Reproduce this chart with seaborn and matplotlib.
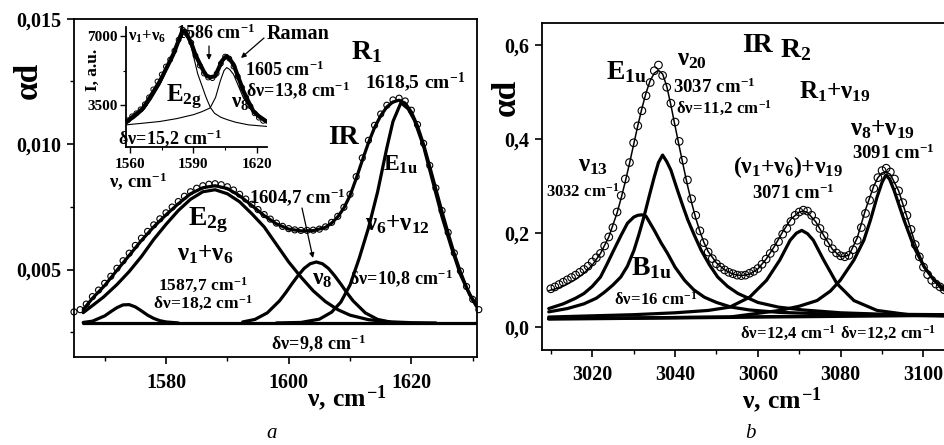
import matplotlib
matplotlib.use('Agg')
import matplotlib.pyplot as plt
from matplotlib.ticker import MultipleLocator, FuncFormatter
import seaborn as sns

# ---------------- panel a: IR band R1 ----------------
a_nu = list(range(1565, 1632))
a_data = [0.00331, 0.00340, 0.00362, 0.00392, 0.00418, 0.00445, 0.00473, 0.00505, 0.00535, 0.00565,
          0.00596, 0.00625, 0.00652, 0.00678, 0.00702, 0.00726, 0.00749, 0.00771, 0.00792, 0.00810,
          0.00824, 0.00834, 0.00840, 0.00842, 0.00838, 0.00830, 0.00817, 0.00800, 0.00781, 0.00760,
          0.00739, 0.00719, 0.00701, 0.00685, 0.00672, 0.00663, 0.00658, 0.00656, 0.00656, 0.00657,
          0.00661, 0.00670, 0.00688, 0.00712, 0.00748, 0.00800, 0.00870, 0.00945, 0.01015, 0.01075,
          0.01120, 0.01155, 0.01176, 0.01183, 0.01172, 0.01135, 0.01078, 0.01003, 0.00915, 0.00825,
          0.00735, 0.00648, 0.00566, 0.00494, 0.00432, 0.00381, 0.00340]

a_fit_nu = [1566.5, 1568, 1570, 1572, 1574, 1576, 1578, 1580, 1582, 1584, 1586, 1588, 1590, 1592,
            1594, 1596, 1598, 1600, 1602, 1604, 1606, 1607, 1608, 1609, 1610, 1611, 1612, 1613,
            1614, 1615, 1616, 1617, 1618, 1619, 1620, 1621, 1622, 1623, 1624, 1625, 1626, 1627,
            1628, 1629, 1630, 1630.7]
a_fit = [0.00340, 0.00385, 0.00436, 0.00497, 0.00556, 0.00616, 0.00670, 0.00718, 0.00762, 0.00802,
         0.00826, 0.00834, 0.00823, 0.00794, 0.00755, 0.00715, 0.00682, 0.00661, 0.00654, 0.00655,
         0.00668, 0.00685, 0.00710, 0.00745, 0.00795, 0.00862, 0.00935, 0.01005, 0.01066, 0.01113,
         0.01148, 0.01168, 0.01175, 0.01163, 0.01128, 0.01072, 0.00998, 0.00910, 0.00820, 0.00730,
         0.00644, 0.00562, 0.00490, 0.00428, 0.00378, 0.00350]

a_e2g_nu = [1566.5, 1568, 1569.8, 1572, 1574, 1576, 1578, 1580, 1582, 1584, 1586, 1588, 1590, 1592,
            1594, 1596, 1598, 1600, 1602, 1604, 1606, 1608, 1610, 1613, 1616, 1620, 1624]
a_e2g = [0.00328, 0.00356, 0.00390, 0.00440, 0.00492, 0.00552, 0.00620, 0.00680, 0.00735, 0.00780,
         0.00810, 0.00818, 0.00802, 0.00770, 0.00722, 0.00670, 0.00600, 0.00530, 0.00470, 0.00415,
         0.00372, 0.00340, 0.00318, 0.00300, 0.00292, 0.00288, 0.00287]

a_v8_nu = [1592.5, 1594.5, 1596.5, 1598.5, 1599.5, 1600.5, 1601.5, 1602.5, 1603.5, 1604.5, 1605.5,
           1606.5, 1607.5, 1608.5, 1609.5, 1610.5, 1612.5, 1614.5, 1616.5]
a_v8 = [0.00291, 0.00301, 0.00327, 0.00375, 0.00407, 0.00442, 0.00475, 0.00504, 0.00523, 0.00530,
        0.00523, 0.00504, 0.00475, 0.00442, 0.00407, 0.00375, 0.00327, 0.00301, 0.00291]

a_e1u_nu = [1598, 1602, 1605, 1607, 1608.5, 1610, 1611.5, 1613, 1614.5, 1616, 1617, 1618.3, 1619.5,
            1620.5, 1622, 1623.5, 1625, 1626.5, 1628, 1629.5, 1630.7]
a_e1u = [0.00287, 0.00289, 0.00302, 0.00330, 0.00370, 0.00438, 0.00545, 0.00665, 0.00810, 0.00985,
         0.01090, 0.01165, 0.01140, 0.01095, 0.00990, 0.00850, 0.00710, 0.00590, 0.00480, 0.00400,
         0.00356]

a_small_nu = [1566.5, 1568, 1570, 1571, 1572, 1573, 1574, 1575, 1576, 1577, 1578, 1579, 1580, 1582]
a_small = [0.00289, 0.00294, 0.00315, 0.00332, 0.00348, 0.00359, 0.00360, 0.00351, 0.00335, 0.00318,
           0.00305, 0.00296, 0.00291, 0.00287]

a_base_nu = [1566.5, 1630.7]
a_base = [0.00287, 0.00287]

# ---------------- inset: Raman ----------------
in_nu = [1559, 1561, 1563, 1565, 1567, 1569, 1571, 1573, 1575, 1577, 1579, 1581, 1583, 1585, 1587,
         1589, 1591, 1593, 1595, 1597, 1599, 1601, 1603, 1605, 1607, 1609, 1611, 1613, 1615, 1617,
         1619, 1621, 1623]
in_data = [2750, 2950, 3100, 3300, 3550, 3900, 4300, 4700, 5050, 5450, 5800, 6250, 6800, 7300, 7150,
           6650, 6000, 5500, 5100, 4900, 4870, 5100, 5600, 5950, 5850, 5450, 4950, 4400, 3900, 3450,
           3100, 2880, 2720]

in_fit_nu = [1558.2, 1561, 1564, 1566.3, 1568.5, 1571, 1574.2, 1577, 1580.5, 1582.5, 1584.5, 1585.3,
             1586.1, 1587.5, 1589.2, 1591, 1593.2, 1595, 1596.3, 1598, 1600.3, 1602, 1603.5, 1604.7,
             1605.8, 1607, 1609, 1611, 1613.7, 1616, 1618.4, 1621, 1624.7]
in_fit = [2650, 2900, 3150, 3370, 3745, 4170, 4720, 5320, 6070, 6620, 7170, 7260, 7250, 6950, 6580,
          6030, 5560, 5180, 4980, 4910, 4970, 5370, 5730, 5880, 5980, 5850, 5560, 4990, 4210, 3700,
          3200, 2950, 2680]

in_e2g_nu = [1558.2, 1562, 1566.3, 1570, 1574.2, 1577, 1580.5, 1583, 1585.3, 1588, 1590, 1592, 1594,
             1596, 1598, 1600, 1603, 1606, 1610, 1616, 1624.7]
in_e2g = [2600, 2850, 3250, 3800, 4550, 5200, 5950, 6650, 7100, 6800, 6000, 5100, 4500, 3900, 3400,
          3100, 2900, 2780, 2650, 2520, 2440]

in_v8_nu = [1558.2, 1566, 1574.2, 1582, 1590, 1594, 1597.9, 1600.5, 1602.7, 1604.5, 1605.8, 1607.2,
            1609, 1611, 1613.7, 1617, 1620, 1624.7]
in_v8 = [2520, 2600, 2690, 2830, 3030, 3180, 3368, 3900, 4717, 5250, 5400, 5300, 5056, 4550, 3875,
         3350, 3028, 2689]

# ---------------- panel b: IR band R2 ----------------
b_nu = list(range(3010, 3106))
b_data = [0.082, 0.086, 0.091, 0.096, 0.101, 0.106, 0.111, 0.117, 0.123, 0.130,
          0.139, 0.148, 0.157, 0.173, 0.192, 0.212, 0.245, 0.280, 0.315, 0.350,
          0.392, 0.428, 0.460, 0.492, 0.520, 0.545, 0.557, 0.535, 0.510, 0.476,
          0.436, 0.395, 0.355, 0.313, 0.273, 0.238, 0.205, 0.180, 0.160, 0.146,
          0.135, 0.128, 0.122, 0.117, 0.114, 0.111, 0.110, 0.111, 0.115, 0.119,
          0.125, 0.134, 0.145, 0.157, 0.168, 0.182, 0.198, 0.210, 0.225, 0.238,
          0.245, 0.249, 0.247, 0.238, 0.225, 0.210, 0.195, 0.180, 0.167, 0.158,
          0.152, 0.150, 0.153, 0.165, 0.185, 0.212, 0.242, 0.270, 0.295, 0.318,
          0.333, 0.338, 0.330, 0.315, 0.290, 0.265, 0.238, 0.208, 0.176, 0.150,
          0.128, 0.112, 0.100, 0.092, 0.086, 0.080]

b_fit_nu = [3009.5, 3012, 3014, 3016, 3018, 3020, 3022, 3024, 3026, 3027, 3028, 3029, 3030, 3031,
            3032, 3033, 3034, 3035, 3036, 3037, 3038, 3039, 3040, 3041, 3042, 3043, 3044, 3045,
            3046, 3047, 3048, 3050, 3052, 3054, 3056, 3058, 3060, 3062, 3064, 3066, 3068, 3070,
            3071, 3072, 3074, 3076, 3078, 3080, 3082, 3084, 3086, 3088, 3089, 3090, 3091, 3092,
            3094, 3096, 3098, 3100, 3102, 3104, 3105.2]
b_fit = [0.078, 0.084, 0.092, 0.102, 0.115, 0.132, 0.157, 0.192, 0.243, 0.275, 0.310, 0.348, 0.388,
         0.428, 0.465, 0.498, 0.524, 0.540, 0.546, 0.538, 0.512, 0.472, 0.428, 0.385, 0.343, 0.302,
         0.265, 0.232, 0.204, 0.180, 0.161, 0.137, 0.122, 0.113, 0.110, 0.113, 0.124, 0.145, 0.172,
         0.203, 0.230, 0.245, 0.247, 0.244, 0.224, 0.194, 0.166, 0.150, 0.153, 0.190, 0.250, 0.300,
         0.318, 0.328, 0.330, 0.325, 0.290, 0.235, 0.178, 0.134, 0.104, 0.084, 0.076]

b_b1u_nu = [3009.5, 3013, 3016, 3018, 3020, 3022, 3023.5, 3025.2, 3027, 3028.5, 3030, 3031, 3032,
            3033, 3035, 3036.6, 3038.2, 3040, 3042.3, 3044.5, 3047.1, 3050, 3053.6, 3058, 3065, 3075,
            3090, 3105.2]
b_b1u = [0.040, 0.050, 0.062, 0.072, 0.087, 0.107, 0.133, 0.164, 0.196, 0.221, 0.234, 0.238, 0.239,
         0.236, 0.206, 0.180, 0.157, 0.128, 0.100, 0.080, 0.064, 0.053, 0.043, 0.037, 0.032, 0.029,
         0.027, 0.026]

b_e1u_nu = [3009.5, 3014, 3018, 3021, 3023, 3025, 3026.9, 3028.5, 3030.1, 3031.3, 3032.5, 3033.8,
            3035, 3036, 3037, 3038, 3039, 3040.6, 3042, 3043.1, 3044.7, 3046.3, 3048.3, 3050.3,
            3052.7, 3055.2, 3060, 3065, 3071, 3080, 3090, 3105.2]
b_e1u = [0.033, 0.040, 0.050, 0.062, 0.075, 0.090, 0.107, 0.130, 0.164, 0.198, 0.235, 0.280, 0.320,
         0.350, 0.366, 0.352, 0.334, 0.291, 0.255, 0.228, 0.195, 0.164, 0.133, 0.107, 0.087, 0.072,
         0.053, 0.043, 0.037, 0.031, 0.028, 0.027]

b_3071_nu = [3009.5, 3030, 3040, 3048, 3053.2, 3058, 3062.1, 3065.3, 3067.8, 3069.3, 3070.6, 3072,
             3073.4, 3075.9, 3079.1, 3083.2, 3088.8, 3097.7, 3105.2]
b_3071 = [0.022, 0.027, 0.031, 0.036, 0.043, 0.064, 0.100, 0.143, 0.185, 0.200, 0.206, 0.199, 0.185,
          0.143, 0.093, 0.057, 0.036, 0.0255, 0.024]

b_3091_nu = [3009.5, 3030, 3053.2, 3065.3, 3070, 3074.3, 3077.5, 3079.9, 3083.2, 3085.6, 3087.2,
             3088.8, 3090, 3090.9, 3091.8, 3092.9, 3095.3, 3097.7, 3100.2, 3102.6, 3105.2]
b_3091 = [0.019, 0.020, 0.022, 0.036, 0.045, 0.057, 0.077, 0.100, 0.143, 0.185, 0.228, 0.277, 0.308,
          0.323, 0.315, 0.291, 0.228, 0.171, 0.128, 0.100, 0.080]

b_base_nu = [3009.5, 3105.2]
b_base = [0.018, 0.026]

# ---------------- style ----------------
sns.set_theme(style='ticks')
plt.rcParams['font.family'] = ['Liberation Serif', 'DejaVu Serif']
plt.rcParams['font.weight'] = 'bold'
plt.rcParams['mathtext.fontset'] = 'custom'
plt.rcParams['mathtext.rm'] = 'Liberation Serif:bold'
plt.rcParams['mathtext.it'] = 'Liberation Serif:bold'
plt.rcParams['mathtext.bf'] = 'Liberation Serif:bold'
for k in ['axes.edgecolor', 'text.color', 'xtick.color', 'ytick.color', 'axes.labelcolor']:
    plt.rcParams[k] = 'black'
plt.rcParams['axes.linewidth'] = 1.3

W, H = 945, 445
fig = plt.figure(figsize=(W / 100, H / 100), dpi=100)


def box(left, top, right, bottom):
    return [left / W, 1 - bottom / H, (right - left) / W, (bottom - top) / H]


def curve(ax, x, y, lw):
    sns.lineplot(x=x, y=y, ax=ax, color='black', linewidth=lw, estimator=None,
                 sort=False, legend=False)


def circles(ax, x, y, size, lw=0.8):
    sns.scatterplot(x=x, y=y, ax=ax, marker='o', s=size, facecolor='none',
                    edgecolor='black', linewidth=lw, legend=False, zorder=3, clip_on=False)


def put(x, y, s, size, **kw):
    fig.text(x / W, 1 - y / H, s, fontsize=size, ha='center', va='center', **kw)


def arrow(x0, y0, x1, y1):
    fig.axes[0].annotate('', xy=(x1 / W, 1 - y1 / H), xytext=(x0 / W, 1 - y0 / H),
                         xycoords='figure fraction', textcoords='figure fraction',
                         annotation_clip=False,
                         arrowprops=dict(arrowstyle='-|>', color='black', lw=0.9,
                                         mutation_scale=7, shrinkA=0, shrinkB=0))


def comma(fmt):
    return FuncFormatter(lambda v, p: format(v, fmt).replace('.', ','))


# ---------------- panel a ----------------
ax1 = fig.add_axes(box(74, 18.7, 477, 357.3))
for x, y in [(a_base_nu, a_base), (a_small_nu, a_small), (a_e2g_nu, a_e2g),
             (a_v8_nu, a_v8), (a_e1u_nu, a_e1u)]:
    curve(ax1, x, y, 2.3)
curve(ax1, a_fit_nu, a_fit, 2.3)
circles(ax1, a_nu, a_data, 19)
ax1.set_xlim(1565, 1630.7)
ax1.set_ylim(0.0015, 0.015)
ax1.xaxis.set_major_locator(MultipleLocator(20))
ax1.xaxis.set_minor_locator(MultipleLocator(10))
ax1.yaxis.set_major_locator(MultipleLocator(0.005))
ax1.yaxis.set_minor_locator(MultipleLocator(0.0025))
ax1.yaxis.set_major_formatter(comma('.3f'))

# ---------------- panel b ----------------
ax2 = fig.add_axes(box(541.7, 22.7, 945, 350))
curve(ax2, b_base_nu, b_base, 2.6)
for x, y in [(b_b1u_nu, b_b1u), (b_e1u_nu, b_e1u), (b_3071_nu, b_3071), (b_3091_nu, b_3091)]:
    curve(ax2, x, y, 2.3)
curve(ax2, b_fit_nu, b_fit, 1.1)
circles(ax2, b_nu, b_data, 30)
ax2.set_xlim(3007.8, 3105.2)
ax2.set_ylim(-0.048, 0.647)
ax2.xaxis.set_major_locator(MultipleLocator(20))
ax2.xaxis.set_minor_locator(MultipleLocator(10))
ax2.yaxis.set_major_locator(MultipleLocator(0.2))
ax2.yaxis.set_major_formatter(comma('.1f'))
ax2.spines['right'].set_visible(False)

for ax in (ax1, ax2):
    ax.set_xlabel('')
    ax.set_ylabel('')
    ax.tick_params(which='major', direction='out', length=5, width=1.2, labelsize=14.5, pad=4)
    ax.tick_params(which='minor', direction='out', length=3, width=1.0)
    ax.tick_params(axis='x', pad=6)
    for t in ax.get_xticklabels() + ax.get_yticklabels():
        t.set_fontweight('bold')

# ---------------- inset ----------------
ax3 = fig.add_axes(box(126, 27, 266.7, 146.7))
curve(ax3, in_e2g_nu, in_e2g, 0.8)
curve(ax3, in_v8_nu, in_v8, 0.8)
curve(ax3, in_fit_nu, in_fit, 3.0)
circles(ax3, in_nu, in_data, 12, lw=0.7)
ax3.set_xlim(1558.1, 1624.7)
ax3.set_ylim(1420, 7440)
ax3.xaxis.set_major_locator(MultipleLocator(30))
ax3.xaxis.set_minor_locator(MultipleLocator(15))
ax3.yaxis.set_major_locator(MultipleLocator(3500))
ax3.yaxis.set_minor_locator(MultipleLocator(1750))
ax3.spines['top'].set_visible(False)
ax3.spines['right'].set_visible(False)
ax3.patch.set_alpha(0)
ax3.set_xlabel('')
ax3.set_ylabel('')
ax3.tick_params(which='major', direction='out', length=4, width=1.0, labelsize=11, pad=2)
ax3.tick_params(which='minor', direction='out', length=2.5, width=0.8)
ax3.tick_params(axis='x', pad=4)

# ---------------- texts ----------------
put(28, 80, 'αd', 24, rotation=90)
put(347, 398, r'$\nu{,}\ cm^{-1}$', 18.5)
put(272, 434, 'a', 15, fontstyle='italic', fontweight='normal')
put(506, 97, 'αd', 24, rotation=90)
put(782, 400, r'$\nu{,}\ cm^{-1}$', 18.5)
put(750, 434, 'b', 15, fontstyle='italic', fontweight='normal')

# panel a labels
put(366, 52, r'$R_1$', 20)
put(415, 82, r'$1618{,}5\ cm^{-1}$', 14)
put(343, 137, 'IR', 20)
put(400, 165, r'$E_{1u}$', 17)
put(397, 224, r'$\nu_6{+}\nu_{12}$', 18)
put(401, 278, r'$\delta\nu\!=\!10{,}8\ cm^{-1}$', 13)
put(297, 197, r'$1604{,}7\ cm^{-1}$', 13.5)
arrow(302, 208, 313, 258)
put(322, 280, r'$\nu_8$', 17)
put(208, 220, r'$E_{2g}$', 20)
put(205, 255, r'$\nu_1{+}\nu_6$', 18)
put(203, 285, r'$1587{,}7\ cm^{-1}$', 12.5)
put(203, 303, r'$\delta\nu\!=\!18{,}2\ cm^{-1}$', 12.5)
put(318, 343, r'$\delta\nu\!=\!9{,}8\ cm^{-1}$', 13)

# inset labels
put(93, 70, 'I, a.u.', 12.5, rotation=90)
put(138, 181, r'$\nu{,}\ cm^{-1}$', 13.5)
put(147, 37, r'$\nu_1{+}\nu_6$', 12)
put(216, 33, r'$1586\ cm^{-1}$', 13)
arrow(209, 46, 209, 60)
put(298, 34, 'Raman', 14.5)
arrow(264, 38, 241, 58)
put(285, 70, r'$1605\ cm^{-1}$', 13)
put(298, 90, r'$\delta\nu\!=\!13{,}8\ cm^{-1}$', 13)
put(184, 97, r'$E_{2g}$', 18)
put(240, 102, r'$\nu_8$', 15)
put(170, 138, r'$\delta\nu\!=\!15{,}2\ cm^{-1}$', 13)

# panel b labels
put(757, 45, 'IR', 20)
put(796, 50, r'$R_2$', 20)
put(626, 72, r'$E_{1u}$', 20)
put(692, 60, r'$\nu_{20}$', 18)
put(714, 87, r'$3037\ cm^{-1}$', 13.5)
put(724, 108, r'$\delta\nu\!=\!11{,}2\ cm^{-1}$', 12)
put(835, 92, r'$R_1{+}\nu_{19}$', 18)
put(882, 130, r'$\nu_8{+}\nu_{19}$', 18)
put(893, 153, r'$3091\ cm^{-1}$', 13.5)
put(788, 167, r'$(\nu_1{+}\nu_6){+}\nu_{19}$', 17)
put(793, 193, r'$3071\ cm^{-1}$', 13.5)
put(593, 166, r'$\nu_{13}$', 18)
put(583, 192, r'$3032\ cm^{-1}$', 12)
put(651, 268, r'$B_{1u}$', 20)
put(656, 300, r'$\delta\nu\!=\!16\ cm^{-1}$', 12)
put(788, 333, r'$\delta\nu\!=\!12{,}4\ cm^{-1}$', 12)
put(888, 333, r'$\delta\nu\!=\!12{,}2\ cm^{-1}$', 12)

fig.savefig('out.png', dpi=100)
